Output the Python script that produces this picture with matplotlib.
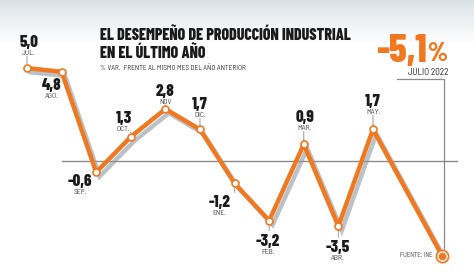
import matplotlib
matplotlib.use('Agg')
import matplotlib.pyplot as plt
import matplotlib.patheffects as pe
import numpy as np

plt.rcParams['font.family'] = ['Barlow Condensed', 'DejaVu Sans']

# datos: variación % interanual de la producción industrial
months = ['JUL.', 'AGO.', 'SEP.', 'OCT.', 'NOV', 'DIC.', 'ENE.', 'FEB.', 'MAR.', 'ABR.', 'MAY.', 'JUL.']
month_idx = [0, 1, 2, 3, 4, 5, 6, 7, 8, 9, 10, 12]
values = [5.0, 4.8, -0.6, 1.3, 2.8, 1.7, -1.2, -3.2, 0.9, -3.5, 1.7, -5.1]
value_labels = ['5,0', '4,8', '-0,6', '1,3', '2,8', '1,7', '-1,2', '-3,2', '0,9', '-3,5', '1,7']

# posicion de las etiquetas (pixeles respecto al punto, linea base del valor)
label_dx = [2, -10, -16, -7, 0, 0, -15, -1, 1, -1, 0]
label_dy = [21, -18, -14, 14, 13, 20, -24, -25, 22, -26, 23]

orange = '#f07820'
small_font = ['Barlow Semi Condensed', 'DejaVu Sans']

fig = plt.figure(figsize=(4.74, 2.76), dpi=100)
ax = fig.add_axes([0, 0, 1, 1])
ax.set_xlim(-0.78, 12.92)
ax.set_ylim(-6.18, 8.66)
ax.axis('off')

# fondo degradado arriba
grad = np.linspace(0, 1, 100).reshape(-1, 1)
top = np.array([0.85, 0.88, 0.90])
img = top + (1 - top) * grad[..., None] ** 0.9
ax.imshow(img, extent=(-0.78, 12.92, 6.3, 8.66), aspect='auto', zorder=0)
ax.axhspan(-6.18, 6.3, color='white', zorder=0)

# linea del cero
ax.plot([1.0, 12.43], [0, 0], color='#8a8a8a', lw=1.0, zorder=1)

# guia del ultimo dato
ax.plot([10.69, 12.05, 12.05], [4.4, 4.4, -5.1], color='#8a8a8a', lw=0.9, zorder=1)

ax.plot(month_idx, values, color=orange, lw=3.2, solid_joinstyle='miter', zorder=3,
        path_effects=[pe.SimpleLineShadow(offset=(2.5, -3), shadow_color='#8c9aa3', alpha=0.6),
                      pe.Normal()])
ax.plot(month_idx[:-1], values[:-1], 'o', ms=5, mfc='white', mec=orange, mew=1.2, zorder=4)
ax.plot(month_idx[-1], values[-1], 'o', ms=9, mfc=orange, mec=orange, zorder=4)
ax.plot(month_idx[-1], values[-1], 'o', ms=6.5, mfc='white', mec='white', zorder=5)
ax.plot(month_idx[-1], values[-1], 'o', ms=4.5, mfc=orange, mec=orange, zorder=6)

for i in range(len(value_labels)):
    x, y = month_idx[i], values[i]
    dx, dy = label_dx[i], label_dy[i]
    # pequeña guia gris
    if dy > 0:
        tick_end = dy - 9
    else:
        tick_end = dy + 15
    ax.annotate('', xy=(x, y), xytext=(0, tick_end), textcoords='offset pixels',
                arrowprops=dict(arrowstyle='-', color='#9a9a9a', lw=0.7, shrinkA=0, shrinkB=3),
                zorder=2)
    ax.annotate(value_labels[i], xy=(x, y), xytext=(dx, dy), textcoords='offset pixels',
                ha='center', va='baseline', fontsize=12, fontweight=800, color='#1a1a1a', zorder=7)
    ax.annotate(months[i], xy=(x, y), xytext=(dx, dy - 3), textcoords='offset pixels',
                ha='center', va='top', fontsize=5.5, family=small_font, color='#444444', zorder=7)

fig.text(100 / 474, 1 - 40 / 276, 'EL DESEMPEÑO DE PRODUCCIÓN INDUSTRIAL', fontsize=11.5,
         fontweight=800, color='#1a1a1a', va='baseline', ha='left')
fig.text(100 / 474, 1 - 58 / 276, 'EN EL ÚLTIMO AÑO', fontsize=11.5,
         fontweight=800, color='#1a1a1a', va='baseline', ha='left')
fig.text(100 / 474, 1 - 69.5 / 276, '% VAR.  FRENTE AL MISMO MES DEL AÑO ANTERIOR', fontsize=5.3,
         family=small_font, color='#333333', va='baseline', ha='left')

fig.text(427 / 474, 1 - 62 / 276, '-5,1', fontsize=28, fontweight=800, color=orange,
         va='baseline', ha='right')
fig.text(427 / 474, 1 - 61 / 276, '%', fontsize=19, fontweight=800, color=orange,
         va='baseline', ha='left')
fig.text(448 / 474, 1 - 75 / 276, 'JULIO 2022', fontsize=6.5, family=small_font, color='#222222',
         va='baseline', ha='right')
fig.text(400 / 474, 1 - 257 / 276, 'FUENTE: INE', fontsize=4.8, family=small_font, color='#444444',
         va='baseline', ha='left')

fig.savefig('out.png', dpi=100)
